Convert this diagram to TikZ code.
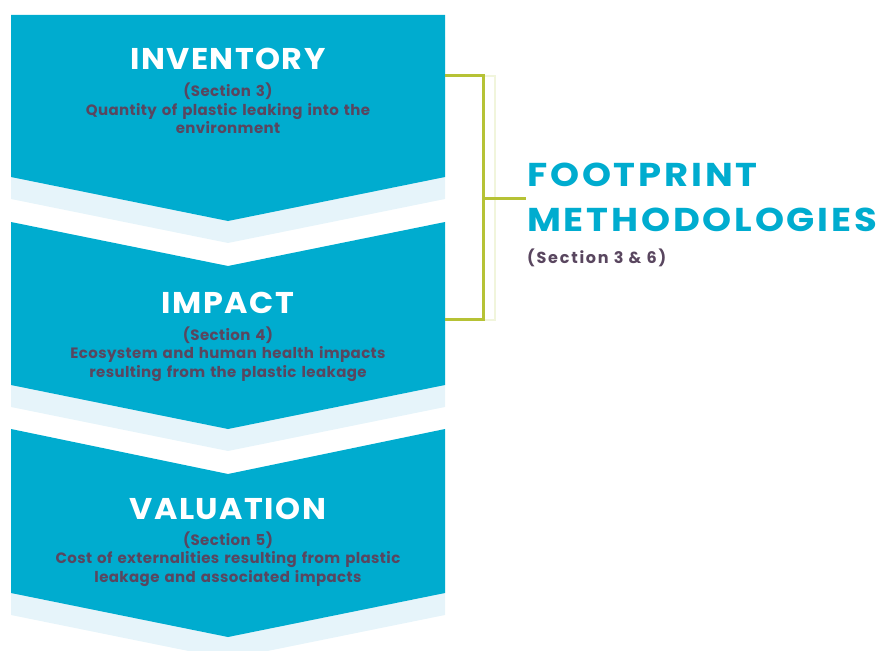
\documentclass[tikz,border=0pt]{standalone}
\usepackage{fontspec}
\setmainfont{Poppins}[BoldFont=* Bold]
\definecolor{chevblue}{HTML}{00ACCF}
\definecolor{chevlight}{HTML}{E6F4FA}
\definecolor{txtpurple}{HTML}{59465F}
\definecolor{brgreen}{HTML}{B6C235}
\definecolor{brfaint}{HTML}{F1F5DC}
\begin{document}
\begin{tikzpicture}[x=1pt,y=-1pt,
  title/.style={anchor=base,text=white,font=\fontsize{30}{30}\selectfont\bfseries\addfontfeature{FakeStretch=1.06,LetterSpace=4.8},inner sep=0pt},
  sub/.style={anchor=base,text=txtpurple,font=\fontsize{15}{18.5}\selectfont\bfseries\addfontfeature{LetterSpace=2.6},inner sep=0pt,align=center,text width=430pt},
  bigtitle/.style={anchor=base west,inner sep=0pt,text=chevblue,font=\fontsize{33}{45}\selectfont\bfseries\addfontfeature{FakeStretch=1.12,LetterSpace=8.5}},
  bluebox/.style={fill=chevblue},
  lightbox/.style={fill=chevlight},
  bracket/.style={draw=brgreen,line width=3pt},
  faint/.style={draw=brfaint,line width=1.5pt}]
\useasboundingbox (0,0) rectangle (882,650);
% light shadows
\fill[lightbox] (11,37) -- (445,37) -- (445,199) -- (228,243) -- (11,199) -- cycle;
\fill[lightbox] (11,244) -- (228,288) -- (445,244) -- (445,407) -- (228,451) -- (11,407) -- cycle;
\fill[lightbox] (11,451) -- (228,496) -- (445,451) -- (445,615) -- (228,659) -- (11,615) -- cycle;
% blue chevrons
\fill[bluebox] (11,15) -- (445,15) -- (445,177) -- (228,221) -- (11,177) -- cycle;
\fill[bluebox] (11,222) -- (228,266) -- (445,222) -- (445,385) -- (228,429) -- (11,385) -- cycle;
\fill[bluebox] (11,429) -- (228,474) -- (445,429) -- (445,593) -- (228,637) -- (11,593) -- cycle;
% texts
\node[title] (inv) at (228,69.3) {INVENTORY};
\node[sub] (invs) at (228,96.7) {(Section 3)\\Quantity of plastic leaking into the\\environment};
\node[title] (imp) at (228,313.3) {IMPACT};
\node[sub] (imps) at (228,340) {(Section 4)\\Ecosystem and human health impacts\\resulting from the plastic leakage};
\node[title] (val) at (228,519.3) {VALUATION};
\node[sub] (vals) at (228,545) {(Section 5)\\Cost of externalities resulting from plastic\\leakage and associated impacts};
% bracket
\coordinate (bt) at (445,76);
\coordinate (bb) at (445,319);
\draw[faint] (483,76) -- (495,76) -- (495,320) -- (483,320);
\draw[bracket] (bt) -- (483,76) -- (483,319) -- (bb);
\draw[bracket] (483,198) -- (526,198);
\node[bigtitle] (fp) at (527,186.7) {FOOTPRINT};
\node[bigtitle] (meth) at (527,231.7) {METHODOLOGIES};
\node[anchor=base west,inner sep=0pt,text=txtpurple,font=\fontsize{16}{18}\selectfont\bfseries\addfontfeature{LetterSpace=11}] (fps) at (527,263) {(Section 3 \& 6)};
\end{tikzpicture}
\end{document}
